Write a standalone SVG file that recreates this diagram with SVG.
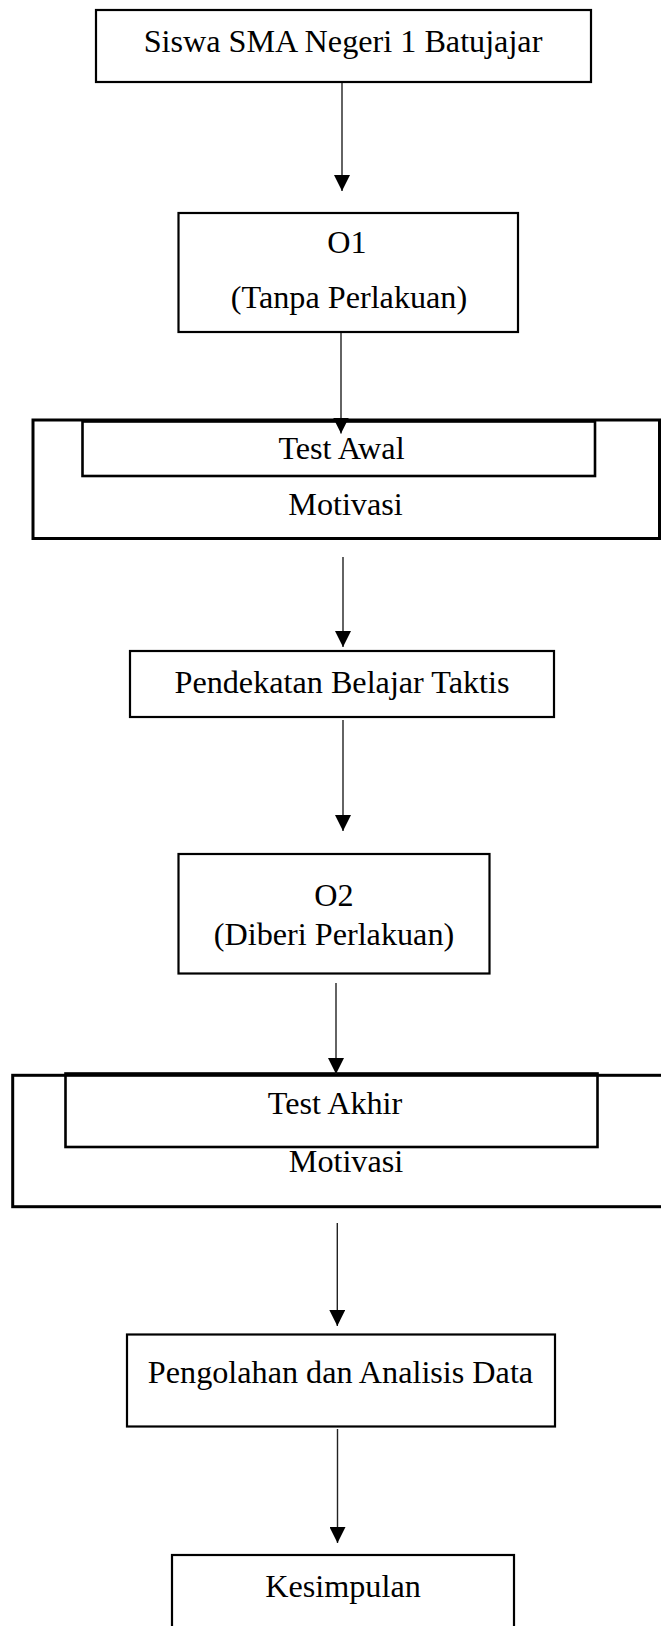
<svg xmlns="http://www.w3.org/2000/svg" width="661" height="1626" viewBox="0 0 661 1626">
<defs>
<style>
.box{fill:none;stroke:#000;stroke-width:2.2}
.outer{fill:none;stroke:#000;stroke-width:3}
.inner{fill:none;stroke:#000;stroke-width:2.6}
.lbl{font-family:"Liberation Serif","Times New Roman",serif;font-size:32.2px;fill:#000;text-anchor:middle}
.conn{fill:none;stroke:#222;stroke-width:1.4;marker-end:url(#arr)}
</style>
<marker id="arr" markerUnits="userSpaceOnUse" markerWidth="16" markerHeight="16" viewBox="0 0 15 15" refX="15" refY="7.5" orient="auto">
<path d="M0,0 L15,7.5 L0,15 z" fill="#000"/>
</marker>
</defs>
<rect x="0" y="0" width="661" height="1626" fill="#fff"/>

<g id="node-siswa">
<rect class="box" x="96" y="10" width="495" height="72"/>
<text class="lbl" x="343" y="52">Siswa SMA Negeri 1 Batujajar</text>
</g>

<g id="node-o1">
<rect class="box" x="178.5" y="213" width="339.5" height="119"/>
<text class="lbl" x="347" y="253">O1</text>
<text class="lbl" x="349" y="308">(Tanpa Perlakuan)</text>
</g>

<g id="node-test-awal">
<rect class="outer" x="33" y="420" width="626.5" height="118.5"/>
<rect class="inner" x="82.5" y="421.5" width="512.5" height="54.5"/>
<text class="lbl" x="341.5" y="459">Test Awal</text>
<text class="lbl" x="345.5" y="515">Motivasi</text>
</g>

<g id="node-pendekatan">
<rect class="box" x="130" y="651" width="424" height="66"/>
<text class="lbl" x="342" y="693">Pendekatan Belajar Taktis</text>
</g>

<g id="node-o2">
<rect class="box" x="178.5" y="854" width="311" height="119.5"/>
<text class="lbl" x="334" y="906">O2</text>
<text class="lbl" x="334" y="945">(Diberi Perlakuan)</text>
</g>

<g id="node-test-akhir">
<rect class="outer" x="12.7" y="1075.3" width="660" height="131.4"/>
<rect class="inner" x="65.5" y="1073.5" width="532" height="73.5"/>
<text class="lbl" x="335" y="1114">Test Akhir</text>
<text class="lbl" x="346" y="1171.5">Motivasi</text>
</g>

<g id="node-pengolahan">
<rect class="box" x="127" y="1334.5" width="428" height="92"/>
<text class="lbl" x="340.5" y="1383">Pengolahan dan Analisis Data</text>
</g>

<g id="node-kesimpulan">
<rect class="box" x="172" y="1555" width="342" height="80"/>
<text class="lbl" x="343" y="1597">Kesimpulan</text>
</g>

<g id="connectors">
<line class="conn" x1="342" y1="83" x2="342" y2="191"/>
<line class="conn" x1="341" y1="333" x2="341" y2="433.5"/>
<line class="conn" x1="343" y1="557" x2="343" y2="647"/>
<line class="conn" x1="343" y1="720" x2="343" y2="831"/>
<line class="conn" x1="336" y1="983" x2="336" y2="1074"/>
<line class="conn" x1="337.3" y1="1223" x2="337.3" y2="1326"/>
<line class="conn" x1="337.5" y1="1429" x2="337.5" y2="1543"/>
</g>
</svg>
